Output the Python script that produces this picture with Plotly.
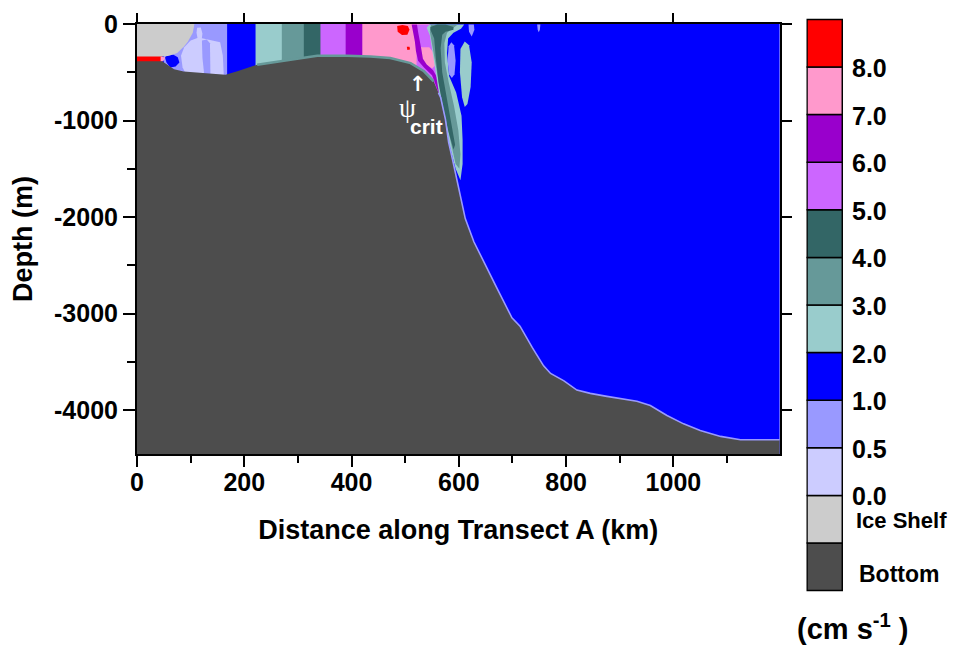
import numpy as np
import plotly.graph_objects as go

# ---------------- values read from the section ----------------
# Seafloor depth along Transect A
bathy_km = [0, 47, 56, 69, 87, 112, 137, 165, 187, 224, 267, 311, 336, 392, 435, 472,
            510, 535, 553, 562, 566, 575, 581, 588, 600, 612, 628, 646, 671, 699, 714,
            737, 758, 771, 796, 820, 845, 876, 907, 932, 957, 988, 1019, 1050, 1088,
            1125, 1200]
bathy_m = [-385, -385, -420, -470, -492, -501, -508, -525, -490, -422, -388, -353, -329,
           -329, -336, -353, -405, -490, -594, -713, -760, -988, -1227, -1399, -1708,
           -2016, -2256, -2462, -2737, -3045, -3131, -3354, -3542, -3621, -3697, -3793,
           -3827, -3858, -3885, -3909, -3954, -4057, -4143, -4211, -4273, -4308, -4308]

# Ice shelf outline (draft)
ice_km = [0, 107, 104, 95, 88, 75, 60, 50, 0]
ice_m = [0, 0, -90, -180, -230, -300, -330, -336, -336]

# Speed classes (cm/s) and colours
speed_levels = [0.0, 0.5, 1.0, 2.0, 3.0, 4.0, 5.0, 6.0, 7.0, 8.0]
speed_colors = ['#ccccff', '#9999ff', '#0000ff', '#99cccc', '#669999', '#336666',
                '#cc66ff', '#9900cc', '#ff99cc', '#ff0000']
bottom_color = '#4d4d4d'
ice_color = '#cccccc'
speed_labels = ['0.0', '0.5', '1.0', '2.0', '3.0', '4.0', '5.0', '6.0', '7.0', '8.0']

# Background speed of the open water
background_speed = 1.5

# Vertical speed bands over the shelf (left edges, km) and their speeds
band_edges_km = [50, 168, 221, 270, 311, 342, 389, 420, 545]
band_speed = [0.75, 1.5, 2.5, 3.5, 4.5, 5.5, 6.5, 7.5]

# Individual speed features (km, depth m, speed)
slow_blob_km = [88, 100, 115, 135, 155, 160, 162, 95, 85, 82]
slow_blob_m = [-240, -170, -140, -165, -190, -330, -560, -560, -450, -330]
slow_blob_speed = 0.25

mid_strip_km = [121, 130, 136, 137, 126, 122]
mid_strip_m = [-170, -160, -200, -560, -560, -350]
mid_strip_speed = 0.75

top_slow_km = [112, 119, 122, 120, 113, 111]
top_slow_m = [-40, -35, -100, -180, -150, -90]
top_slow_speed = 0.25

tip_jet_km = [52, 58, 68, 76, 79, 72, 62, 55]
tip_jet_m = [-345, -315, -318, -345, -400, -440, -450, -400]
tip_jet_speed = 1.5

cavity_km = [0, 46, 50, 46, 0]
cavity_m = [-330, -330, -350, -400, -400]
cavity_speed = 8.5

cavity_tip_km = [44, 53, 49, 44]
cavity_tip_m = [-336, -348, -385, -390]
cavity_tip_speed = 7.5

red_spot_km = [485, 495, 505, 508, 504, 494, 486]
red_spot_m = [-20, -10, -20, -60, -110, -115, -80]
red_spot_speed = 8.5

red_dot_km = [503, 508, 509, 504]
red_dot_m = [-235, -235, -265, -270]
red_dot_speed = 8.5

slope_violet_km = [522, 556, 556, 560, 566, 575, 578, 520]
slope_violet_m = [-5, -5, -150, -400, -600, -900, -1000, -1000]
slope_violet_speed = 5.5

slope_pink_km = [528, 545, 553, 556, 550, 540, 530, 525]
slope_pink_m = [-240, -240, -300, -430, -460, -420, -380, -300]
slope_pink_speed = 7.5

purple_strand_km = [512, 522, 524, 528, 530, 533, 540, 552, 560, 566, 562, 550, 535, 524,
                    520, 518, 514]
purple_strand_m = [-5, -5, -80, -180, -260, -360, -420, -480, -560, -700, -710, -530,
                   -450, -380, -280, -180, -80]
purple_strand_speed = 6.5

plume_outer_km = [545, 610, 604, 590, 580, 578, 582, 595, 605, 607, 607, 603, 594, 580,
                  568, 560, 552, 546, 540]
plume_outer_m = [-5, -5, -50, -90, -150, -300, -540, -710, -950, -1200, -1450, -1620,
                 -1500, -1200, -900, -600, -300, -120, -40]
plume_outer_speed = 2.5

plume_mid_km = [548, 598, 590, 578, 573, 574, 581, 591, 599, 603, 601, 594, 584, 574,
                564, 556, 550, 546]
plume_mid_m = [-5, -5, -40, -90, -200, -400, -600, -850, -1100, -1350, -1500, -1450,
               -1200, -950, -650, -400, -200, -80]
plume_mid_speed = 3.5

plume_core_km = [547, 560, 575, 590, 590, 575, 569, 566, 569, 577, 586, 593, 590, 580,
                 570, 562, 557, 554, 547]
plume_core_m = [-30, -5, -5, -30, -60, -80, -110, -250, -500, -750, -1000, -1250, -1300,
                -1100, -850, -600, -350, -150, -60]
plume_core_speed = 4.5

eddy_slow_km = [586, 591, 594, 592, 587, 582, 579, 581]
eddy_slow_m = [-190, -220, -380, -520, -560, -520, -380, -230]
eddy_slow_speed = 0.75

eddy_fast_km = [611, 619, 624, 622, 616, 611, 606, 602, 603]
eddy_fast_m = [-180, -220, -400, -650, -830, -860, -760, -500, -260]
eddy_fast_speed = 2.5

drop_a_km = [618, 628, 629, 624, 619]
drop_a_m = [-5, -5, -60, -130, -80]
drop_a_speed = 0.75

drop_b_km = [746, 752, 751, 749, 747]
drop_b_m = [-5, -5, -60, -85, -60]
drop_b_speed = 0.75

# Bottom boundary-layer speeds (drawn along the seafloor)
shelf_layer_range_km = [190, 560]
shelf_layer_speed = 3.5
deep_layer_range_km = [560, 1200]
deep_layer_speed = 0.75

X_RANGE = [0, 1198]
Y_RANGE = [-4457, 0]
Y_FLOOR = -4700

# ---------------- helpers ----------------
def speed_color(v):
    idx = int(np.searchsorted(speed_levels, v, side='right')) - 1
    return speed_colors[max(0, min(idx, len(speed_colors) - 1))]


def poly(km, m, color):
    return go.Scatter(x=list(km) + [km[0]], y=list(m) + [m[0]], mode='lines',
                      fill='toself', fillcolor=color, line=dict(width=0, color=color),
                      hoverinfo='skip', showlegend=False)


FONT = 'Liberation Sans, Arial, sans-serif'
fig = go.Figure()

# open water background
fig.add_trace(poly([X_RANGE[0] - 10, 1210, 1210, X_RANGE[0] - 10],
                   [10, 10, Y_FLOOR, Y_FLOOR], speed_color(background_speed)))

# shelf bands (each band runs to the end of the banded zone; later ones overlay)
for left, spd in zip(band_edges_km[:-1], band_speed):
    right = band_edges_km[-1]
    fig.add_trace(poly([left, right, right, left], [10, 10, -800, -800], speed_color(spd)))

features = [
    (slow_blob_km, slow_blob_m, slow_blob_speed),
    (mid_strip_km, mid_strip_m, mid_strip_speed),
    (top_slow_km, top_slow_m, top_slow_speed),
    (tip_jet_km, tip_jet_m, tip_jet_speed),
    (cavity_km, cavity_m, cavity_speed),
    (cavity_tip_km, cavity_tip_m, cavity_tip_speed),
    (red_spot_km, red_spot_m, red_spot_speed),
    (red_dot_km, red_dot_m, red_dot_speed),
    (slope_violet_km, slope_violet_m, slope_violet_speed),
    (slope_pink_km, slope_pink_m, slope_pink_speed),
    (purple_strand_km, purple_strand_m, purple_strand_speed),
    (plume_outer_km, plume_outer_m, plume_outer_speed),
    (plume_mid_km, plume_mid_m, plume_mid_speed),
    (plume_core_km, plume_core_m, plume_core_speed),
    (eddy_slow_km, eddy_slow_m, eddy_slow_speed),
    (eddy_fast_km, eddy_fast_m, eddy_fast_speed),
    (drop_a_km, drop_a_m, drop_a_speed),
    (drop_b_km, drop_b_m, drop_b_speed),
]
for km, m, spd in features:
    fig.add_trace(poly(km, m, speed_color(spd)))

# seafloor
fig.add_trace(poly(bathy_km + [1210, 1210, -10, -10],
                   bathy_m + [bathy_m[-1], Y_FLOOR, Y_FLOOR, bathy_m[0]], bottom_color))

# bottom boundary layer lines
bk = np.array(bathy_km)
bm = np.array(bathy_m)
for rng, spd, w in [(shelf_layer_range_km, shelf_layer_speed, 2.5),
                    (deep_layer_range_km, deep_layer_speed, 1.6)]:
    sel = (bk >= rng[0]) & (bk <= rng[1])
    fig.add_trace(go.Scatter(x=bk[sel], y=bm[sel], mode='lines',
                             line=dict(color=speed_color(spd), width=w),
                             hoverinfo='skip', showlegend=False))

# ice shelf
fig.add_trace(poly(ice_km, ice_m, ice_color))

# tick mirrors on top/right
fig.add_trace(go.Scatter(x=[None], y=[None], xaxis='x2', yaxis='y', mode='lines',
                         showlegend=False, hoverinfo='skip'))
fig.add_trace(go.Scatter(x=[None], y=[None], xaxis='x', yaxis='y2', mode='lines',
                         showlegend=False, hoverinfo='skip'))

# colour key
key_colors = [bottom_color, ice_color] + speed_colors
fig.add_trace(go.Bar(x=[0.5] * len(key_colors), y=[1] * len(key_colors),
                     base=list(range(len(key_colors))), width=1,
                     marker=dict(color=key_colors, line=dict(color='black', width=1.5)),
                     xaxis='x3', yaxis='y3', hoverinfo='skip', showlegend=False))

# ---------------- layout ----------------
L, R, T, B = 136.5, 842.7, 18.3, 591.7
W, H = 958, 646
pw, ph = R - L, B - T
xdom = [0, (779.3 - L) / pw]
ydom = [(B - 454.0) / ph, (B - 24.3) / ph]

tickfont = dict(family=FONT, size=25, color='black', weight='bold')
titlefont = dict(family=FONT, size=27, color='black', weight='bold')

y_tick_vals = [0, -1000, -2000, -3000, -4000]
y_tick_text = ['0', '-1000', '-2000', '-3000', '-4000']

fig.update_layout(
    width=W, height=H,
    margin=dict(l=L, r=W - R, t=T, b=H - B, pad=0, autoexpand=False),
    paper_bgcolor='white', plot_bgcolor='white',
    showlegend=False,
    xaxis=dict(domain=xdom, range=X_RANGE, anchor='y', showgrid=False, zeroline=False,
               showline=True, linecolor='black', linewidth=2, mirror=True,
               ticks='outside', tick0=0, dtick=200, ticklen=11, tickwidth=2,
               tickcolor='black', tickfont=tickfont, ticklabelstandoff=-6,
               automargin=False,
               minor=dict(ticks='outside', dtick=100, tick0=0, ticklen=7, tickwidth=2,
                          tickcolor='black', showgrid=False),
               title=dict(text='Distance along Transect A (km)', font=titlefont,
                          standoff=25)),
    yaxis=dict(domain=ydom, range=Y_RANGE, anchor='x', showgrid=False, zeroline=False,
               showline=True, linecolor='black', linewidth=2, mirror=True,
               ticks='outside', tickmode='array', tickvals=y_tick_vals,
               ticktext=y_tick_text, ticklen=12, tickwidth=2, tickcolor='black',
               tickfont=tickfont, automargin=False,
               minor=dict(ticks='outside', dtick=500, tick0=0, ticklen=8, tickwidth=2,
                          tickcolor='black', showgrid=False),
               title=dict(text='Depth (m)', font=titlefont, standoff=14)),
    xaxis2=dict(overlaying='x', side='top', anchor='y', range=X_RANGE, showgrid=False,
                zeroline=False, showline=False, ticks='outside', tick0=0, dtick=200,
                ticklen=10, tickwidth=2, tickcolor='black', showticklabels=False,
                automargin=False),
    yaxis2=dict(overlaying='y', side='right', anchor='x', range=Y_RANGE, showgrid=False,
                zeroline=False, showline=False, ticks='outside', tick0=0, dtick=1000,
                ticklen=11, tickwidth=2, tickcolor='black', showticklabels=False,
                automargin=False),
    xaxis3=dict(domain=[(806 - L) / pw, 1.0], range=[-0.02, 1.02], anchor='y3',
                visible=False, fixedrange=True),
    yaxis3=dict(domain=[0, 1], range=[-0.03, 12.03], anchor='x3', visible=False,
                fixedrange=True),
)

# colour key labels
lab_x = (850 - L) / pw
lab_font = dict(family=FONT, size=25, color='black', weight='bold')
for i, txt in enumerate(speed_labels):
    fig.add_annotation(x=lab_x, xref='paper', y=2 + i, yref='y3', text=txt,
                       showarrow=False, xanchor='left', yanchor='middle',
                       font=lab_font, yshift=-1)
fig.add_annotation(x=(854 - L) / pw, xref='paper', y=1.47, yref='y3', text='Ice Shelf',
                   showarrow=False, xanchor='left', yanchor='middle',
                   font=dict(family=FONT, size=22, color='black', weight='bold'))
fig.add_annotation(x=(857 - L) / pw, xref='paper', y=0.35, yref='y3', text='Bottom',
                   showarrow=False, xanchor='left', yanchor='middle',
                   font=dict(family=FONT, size=23, color='black', weight='bold'))
fig.add_annotation(x=(795 - L) / pw, xref='paper', y=(B - 627) / ph, yref='paper',
                   text='(cm s<sup>-1</sup> )', showarrow=False, xanchor='left',
                   yanchor='middle',
                   font=dict(family=FONT, size=29, color='black', weight='bold'))

# psi_crit label
fig.add_annotation(x=523, y=-625, xref='x', yref='y', text='↑', showarrow=False,
                   font=dict(family='DejaVu Sans', size=21, color='white', weight='bold'))
fig.add_annotation(x=504, y=-875, xref='x', yref='y', text='ψ', showarrow=False,
                   font=dict(family='Liberation Serif', size=27, color='white'))
fig.add_annotation(x=540, y=-1065, xref='x', yref='y', text='crit', showarrow=False,
                   font=dict(family=FONT, size=21, color='white', weight='bold'))

fig.write_html('out.html')
